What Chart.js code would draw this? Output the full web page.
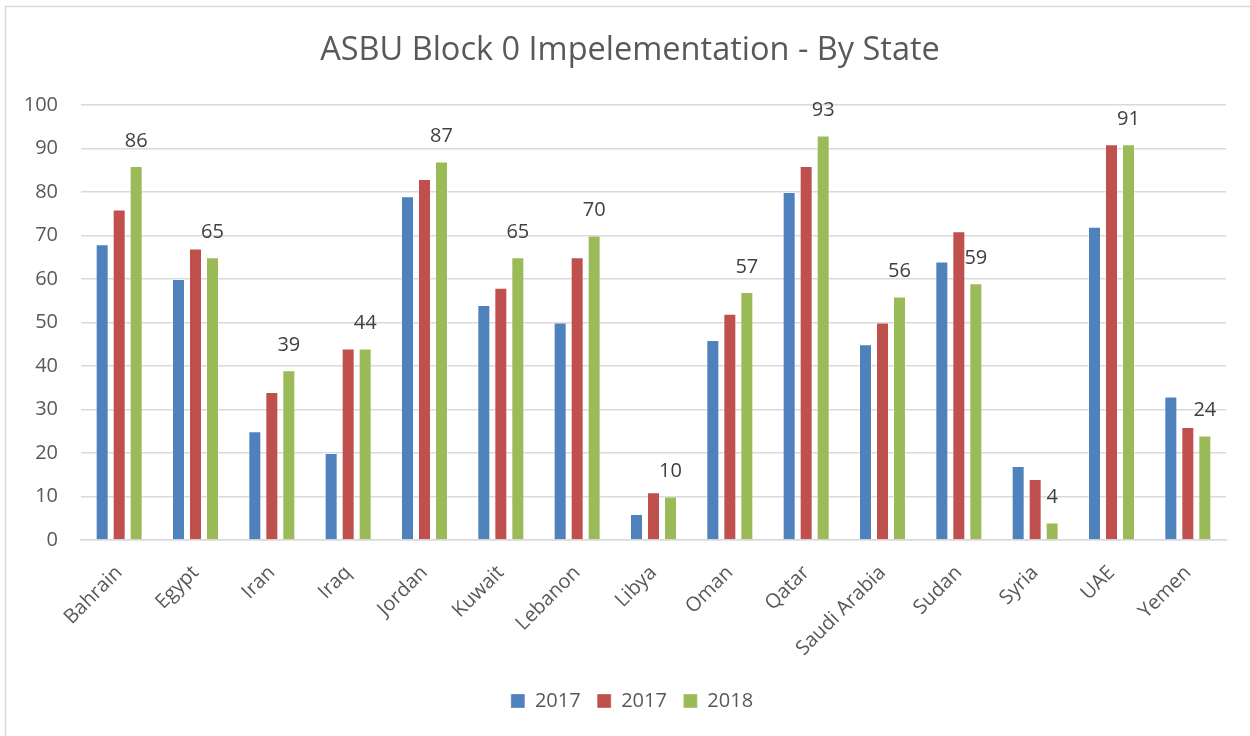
<!DOCTYPE html>
<html>
<head>
<meta charset="utf-8">
<script src="https://cdn.jsdelivr.net/npm/chart.js@4.4.1/dist/chart.umd.min.js"></script>
<style>
  html, body { margin: 0; padding: 0; background: #ffffff; }
  #wrap { position: relative; width: 1250px; height: 736px; }
</style>
</head>
<body>
<div id="wrap"><canvas id="c"></canvas></div>
<script>
const categories = ["Bahrain", "Egypt", "Iran", "Iraq", "Jordan", "Kuwait", "Lebanon", "Libya", "Oman", "Qatar", "Saudi Arabia", "Sudan", "Syria", "UAE", "Yemen"];
const seriesA2017 = [68, 60, 25, 20, 79, 54, 50, 6, 46, 80, 45, 64, 17, 72, 33];
const seriesB2017 = [76, 67, 34, 44, 83, 58, 65, 11, 52, 86, 50, 71, 14, 91, 26];
const series2018 = [86, 65, 39, 44, 87, 65, 70, 10, 57, 93, 56, 59, 4, 91, 24];
const seriesNames = ["2017", "2017", "2018"];
const yTicks = [0, 10, 20, 30, 40, 50, 60, 70, 80, 90, 100];
const titleText = "ASBU Block 0 Impelementation - By State";

const FONT = "'Open Sans', 'DejaVu Sans', sans-serif";

const frame = {
  id: 'frame',
  afterLayout(chart) {
    if (chart.titleBlock) { chart.titleBlock.left += 12; chart.titleBlock.right += 12; }
    if (chart.legend) { chart.legend.left += 14; chart.legend.right += 14; }
  },
  beforeDraw(chart) {
    const ctx = chart.ctx;
    ctx.save();
    ctx.fillStyle = '#ffffff';
    ctx.fillRect(0, 0, chart.width, chart.height);
    ctx.strokeStyle = '#d9d9d9';
    ctx.lineWidth = 1.5;
    ctx.beginPath();
    ctx.moveTo(5.5, chart.height);
    ctx.lineTo(5.5, 6.5);
    ctx.lineTo(chart.width, 6.5);
    ctx.stroke();
    ctx.restore();
  }
};

const valueLabels = {
  id: 'valueLabels',
  afterDatasetsDraw(chart) {
    const ctx = chart.ctx;
    const meta = chart.getDatasetMeta(2);
    const data = chart.data.datasets[2].data;
    ctx.save();
    ctx.font = "20px " + FONT;
    ctx.fillStyle = '#404040';
    ctx.textAlign = 'center';
    ctx.textBaseline = 'middle';
    meta.data.forEach((bar, i) => {
      ctx.fillText(String(data[i]), bar.x, bar.y - 25);
    });
    ctx.restore();
  }
};

new Chart(document.getElementById('c'), {
  type: 'bar',
  data: {
    labels: categories,
    datasets: [
      { label: seriesNames[0], data: seriesA2017, backgroundColor: '#4f81bd', borderColor: 'rgba(255,255,255,0.35)', borderWidth: 1 },
      { label: seriesNames[1], data: seriesB2017, backgroundColor: '#c0504d', borderColor: 'rgba(255,255,255,0.35)', borderWidth: 1 },
      { label: seriesNames[2], data: series2018, backgroundColor: '#9bbb59', borderColor: 'rgba(255,255,255,0.35)', borderWidth: 1 }
    ]
  },
  options: {
    responsive: true,
    maintainAspectRatio: false,
    animation: false,
    devicePixelRatio: 1,
    layout: { padding: { left: 10, right: 24, top: 0, bottom: 15 } },
    datasets: { bar: { categoryPercentage: 0.668, barPercentage: 0.765 } },
    plugins: {
      title: {
        display: true,
        text: titleText,
        color: '#595959',
        font: { family: FONT, size: 32.5, weight: 'normal' },
        padding: { top: 31, bottom: 35 }
      },
      legend: {
        position: 'bottom',
        labels: {
          boxWidth: 14,
          boxHeight: 14,
          padding: 16.5,
          color: '#595959',
          font: { family: FONT, size: 20 }
        }
      },
      tooltip: { enabled: false }
    },
    scales: {
      x: {
        grid: { display: false, drawTicks: false },
        border: { display: true, color: '#d9d9d9', width: 1.5 },
        ticks: {
          color: '#595959',
          font: { family: FONT, size: 20 },
          maxRotation: 45,
          minRotation: 45,
          autoSkip: false,
          padding: 21
        },
        afterFit(scale) { scale.height = 134.5; }
      },
      y: {
        min: 0,
        max: 100,
        grid: { color: '#d9d9d9', lineWidth: 1.5, drawTicks: false },
        border: { display: false },
        afterBuildTicks(scale) { scale.ticks = yTicks.map(v => ({ value: v })); },
        ticks: {
          color: '#595959',
          font: { family: FONT, size: 20 },
          padding: 23
        },
        afterFit(scale) { scale.width = 71; }
      }
    }
  },
  plugins: [frame, valueLabels]
});
</script>
</body>
</html>
